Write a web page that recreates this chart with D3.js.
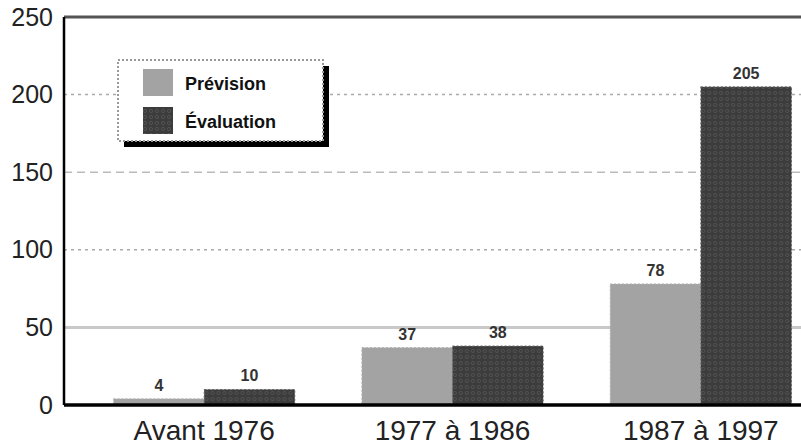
<!DOCTYPE html>
<html><head><meta charset="utf-8">
<script src="https://cdn.jsdelivr.net/npm/d3@7"></script>
<style>body{margin:0;background:#fff}svg{display:block}</style>
</head><body>
<script>
const categories = ["Avant 1976", "1977 à 1986", "1987 à 1997"];
const seriesNames = ["Prévision", "Évaluation"];
const prevision = [4, 37, 78];
const evaluation = [10, 38, 205];
const yTicks = [0, 50, 100, 150, 200, 250];

(function(){
const W = 801, H = 446;
const svg = d3.select("body").append("svg").attr("width", W).attr("height", H);
const defs = svg.append("defs");
const pat = defs.append("pattern").attr("id","dots").attr("patternUnits","userSpaceOnUse").attr("width",6).attr("height",6);
pat.append("rect").attr("width",6).attr("height",6).attr("fill","#3c3c3c");
pat.append("circle").attr("cx",3).attr("cy",3).attr("r",1.6).attr("fill","none").attr("stroke","#555").attr("stroke-width",0.8);

const pLeft = 64, pRight = 801, pTop = 17, pBottom = 405;
const y = d3.scaleLinear().domain([0, 250]).range([pBottom, pTop]);
const x0 = d3.scaleBand().domain(categories).range([80, 825]).paddingInner(0.27).paddingOuter(0.135);
const x1 = d3.scaleBand().domain(seriesNames).range([0, x0.bandwidth()]);
const font = "'Liberation Sans Narrow','Liberation Sans',Arial,sans-serif";

const gridStyle = {
  50: {stroke:"#c8c8c8", w:3, dash:null},
  100:{stroke:"#aaa", w:1.5, dash:"3,4"},
  150:{stroke:"#bbb", w:1.5, dash:"8,5"},
  200:{stroke:"#aaa", w:1.5, dash:"3,4"}
};
yTicks.filter(t => gridStyle[t]).forEach(t => {
  const s = gridStyle[t];
  svg.append("line").attr("x1", pLeft).attr("x2", pRight).attr("y1", y(t)).attr("y2", y(t))
    .attr("stroke", s.stroke).attr("stroke-width", s.w).attr("stroke-dasharray", s.dash);
});
svg.append("line").attr("x1", pLeft).attr("x2", pRight).attr("y1", y(250)).attr("y2", y(250))
  .attr("stroke","#555").attr("stroke-width",3);

const groups = svg.append("g").selectAll("g").data(categories).join("g")
  .attr("transform", d => `translate(${x0(d)},0)`);
groups.each(function(c, i) {
  const g = d3.select(this);
  const vals = [prevision[i], evaluation[i]];
  vals.forEach((v, j) => {
    const name = seriesNames[j];
    g.append("rect").attr("x", x1(name)).attr("y", y(v)).attr("width", x1.bandwidth())
      .attr("height", y(0) - y(v))
      .attr("fill", j === 0 ? "#a3a3a3" : "url(#dots)")
      .attr("stroke", j === 0 ? "#b5b5b5" : "#666").attr("stroke-width", 1)
      .attr("stroke-dasharray", "2,2");
    g.append("text").attr("x", x1(name) + x1.bandwidth()/2).attr("y", y(v) - 8)
      .attr("text-anchor","middle").attr("font-family", font).attr("font-weight","bold")
      .attr("font-size", 16).attr("fill","#333").text(v);
  });
});

svg.append("line").attr("x1", pLeft).attr("x2", pLeft).attr("y1", pTop).attr("y2", pBottom)
  .attr("stroke","#000").attr("stroke-width",2.5);
svg.append("line").attr("x1", pLeft).attr("x2", pRight).attr("y1", pBottom).attr("y2", pBottom)
  .attr("stroke","#000").attr("stroke-width",3.5);

const yAxis = d3.axisLeft(y).tickValues(yTicks).tickSize(0).tickPadding(11);
const ya = svg.append("g").attr("transform", `translate(${pLeft},0)`).call(yAxis);
ya.select(".domain").remove();
ya.selectAll("text").attr("font-family", font).attr("font-size", 25).attr("fill","#222");

const xAxis = d3.axisBottom(x0).tickSize(0).tickPadding(15);
const xa = svg.append("g").attr("transform", `translate(0,${pBottom})`).call(xAxis);
xa.select(".domain").remove();
xa.selectAll("text").attr("font-family", font).attr("font-size", 28).attr("fill","#222");

const lg = svg.append("g").attr("transform","translate(118,60)");
lg.append("rect").attr("x",6).attr("y",6).attr("width",205).attr("height",81).attr("fill","#000");
lg.append("rect").attr("x",0).attr("y",0).attr("width",205).attr("height",81).attr("fill","#fff")
  .attr("stroke","#999").attr("stroke-width",2).attr("stroke-dasharray","2,2");
seriesNames.forEach((n, j) => {
  const yy = 9 + j * 38;
  lg.append("rect").attr("x",25).attr("y",yy).attr("width",30).attr("height",27)
    .attr("fill", j === 0 ? "#a3a3a3" : "url(#dots)");
  lg.append("text").attr("x",67).attr("y",yy + 21).attr("font-family", font).attr("font-weight","bold")
    .attr("font-size",18).attr("fill","#111").text(n);
});
})();
</script>
</body></html>
